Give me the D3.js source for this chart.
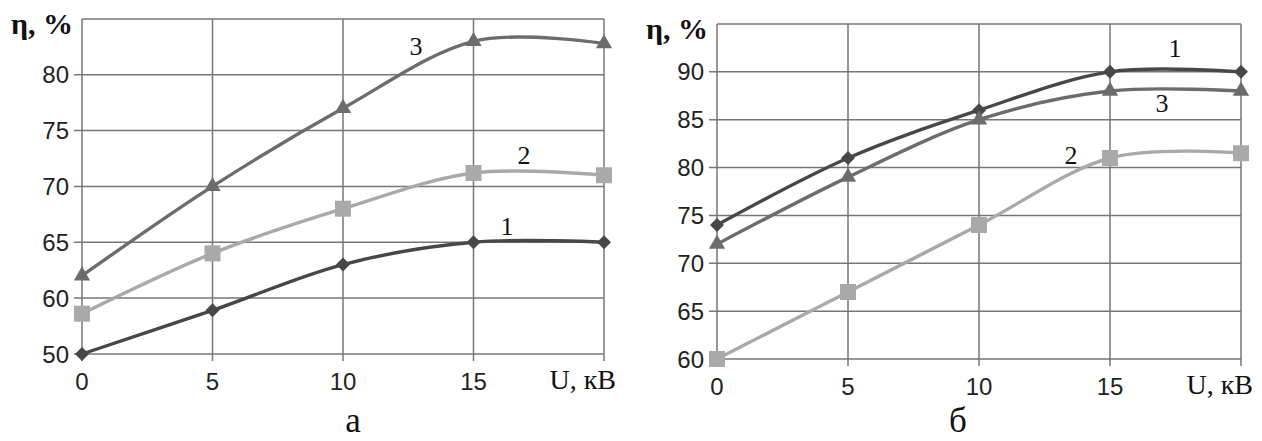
<!DOCTYPE html>
<html>
<head>
<meta charset="utf-8">
<script src="https://cdn.jsdelivr.net/npm/d3@7"></script>
<style>
  html, body { margin: 0; padding: 0; background: #fff; }
  svg { display: block; }
  .tick-label { font-family: "Liberation Sans", Arial, sans-serif; font-size: 24px; fill: #222; }
  .serif { font-family: "Liberation Serif", "Times New Roman", serif; fill: #111; }
</style>
</head>
<body>
<svg id="chart" width="1262" height="441"></svg>
<script>
// Voltage, kV
const voltage = [0, 5, 10, 15, 20];
const xTickValues = [0, 5, 10, 15];

// Panel "а": efficiency η, %
const aSeries1 = [50, 57.8, 63, 65, 65];
const aSeries2 = [57.2, 64, 68, 71.2, 71];
const aSeries3 = [62, 70, 77, 83, 82.8];
const aYTicks = [50, 60, 65, 70, 75, 80];

// Panel "б": efficiency η, %
const bSeries1 = [74, 81, 86, 90, 90];
const bSeries2 = [60, 67, 74, 81, 81.5];
const bSeries3 = [72, 79, 85, 88, 88];
const bYTicks = [60, 65, 70, 75, 80, 85, 90];

const seriesNames = ["1", "2", "3"];

const svg = d3.select("#chart");

const colors = { "1": "#474747", "2": "#a9a9a9", "3": "#6c6c6c" };
const gridColor = "#767676";

const diamond = d3.symbol().type(d3.symbolSquare).size(98);
const square = d3.symbol().type(d3.symbolSquare).size(256);
const triangle = d3.symbol().type(d3.symbolTriangle).size(115);

function drawPanel(cfg) {
  const { x, y, yTicks, series, labels, caption, topValue } = cfg;
  const g = svg.append("g");
  const [x0, x1] = x.range();
  const yBottom = y(yTicks[0]);
  const yTop = y(topValue);

  // horizontal grid lines with outward tick marks
  g.selectAll(".hgrid").data(yTicks.concat([topValue])).join("line")
    .attr("x1", d => d === topValue ? x0 : x0 - 8)
    .attr("x2", x1)
    .attr("y1", d => y(d)).attr("y2", d => y(d))
    .attr("stroke", gridColor).attr("stroke-width", 1.5);

  // vertical grid lines with outward tick marks
  g.selectAll(".vgrid").data(voltage).join("line")
    .attr("x1", d => x(d)).attr("x2", d => x(d))
    .attr("y1", yTop).attr("y2", yBottom + 7)
    .attr("stroke", gridColor).attr("stroke-width", 1.5);

  // y tick labels
  g.selectAll(".ylab").data(yTicks).join("text")
    .attr("class", "tick-label")
    .attr("x", x0 - 13).attr("y", d => y(d))
    .attr("dy", "0.36em")
    .attr("text-anchor", "end")
    .text(d => d);

  // x tick labels
  g.selectAll(".xlab").data(xTickValues).join("text")
    .attr("class", "tick-label")
    .attr("x", d => x(d)).attr("y", yBottom + 36)
    .attr("text-anchor", "middle")
    .text(d => d);

  // axis titles
  g.append("text").attr("class", "serif")
    .attr("x", x1 + 12).attr("y", yBottom + 35)
    .attr("text-anchor", "end")
    .style("font-size", "28px")
    .text("U, кВ");

  g.append("text").attr("class", "serif")
    .attr("x", x0 - 71).attr("y", yTop + 15)
    .style("font-size", "30px").style("font-weight", "bold")
    .text("η, %");

  // curves
  const line = d3.line()
    .x((d, i) => x(voltage[i]))
    .y(d => y(d))
    .curve(d3.curveCardinal.tension(0));

  series.forEach(s => {
    g.append("path")
      .attr("d", line(s.values))
      .attr("fill", "none")
      .attr("stroke", colors[s.name])
      .attr("stroke-width", 3.4);
  });

  series.forEach(s => {
    const sym = s.name === "1" ? diamond : s.name === "2" ? square : triangle;
    g.selectAll(null).data(s.values).join("path")
      .attr("d", sym())
      .attr("transform", (d, i) => {
        const base = `translate(${x(voltage[i])},${y(d)})`;
        return s.name === "1" ? base + " rotate(45)" : base;
      })
      .attr("fill", colors[s.name]);
  });

  // curve numbers
  labels.forEach(l => {
    g.append("text").attr("class", "serif")
      .attr("x", l.x).attr("y", l.y)
      .attr("text-anchor", "middle")
      .style("font-size", "26px")
      .text(l.text);
  });

  // panel caption
  g.append("text").attr("class", "serif")
    .attr("x", caption.x).attr("y", caption.y)
    .attr("text-anchor", "middle")
    .style("font-size", "35px")
    .text(caption.text);
}

// Panel "а": the value axis jumps from 50 straight to 60
const xA = d3.scaleLinear().domain([0, 20]).range([82, 604]);
const yA = d3.scaleLinear().domain([50, 60, 85]).range([354, 298, 19]);

drawPanel({
  x: xA, y: yA, yTicks: aYTicks, topValue: 85,
  series: [
    { name: "1", values: aSeries1 },
    { name: "2", values: aSeries2 },
    { name: "3", values: aSeries3 }
  ],
  labels: [
    { text: seriesNames[2], x: 416, y: 55 },
    { text: seriesNames[1], x: 524, y: 164 },
    { text: seriesNames[0], x: 507, y: 235 }
  ],
  caption: { text: "а", x: 353, y: 432 }
});

// Panel "б"
const xB = d3.scaleLinear().domain([0, 20]).range([717, 1241]);
const yB = d3.scaleLinear().domain([60, 95]).range([359, 24]);

drawPanel({
  x: xB, y: yB, yTicks: bYTicks, topValue: 95,
  series: [
    { name: "1", values: bSeries1 },
    { name: "2", values: bSeries2 },
    { name: "3", values: bSeries3 }
  ],
  labels: [
    { text: seriesNames[0], x: 1175, y: 57 },
    { text: seriesNames[2], x: 1162, y: 112 },
    { text: seriesNames[1], x: 1071, y: 164 }
  ],
  caption: { text: "б", x: 958, y: 432 }
});
</script>
</body>
</html>
